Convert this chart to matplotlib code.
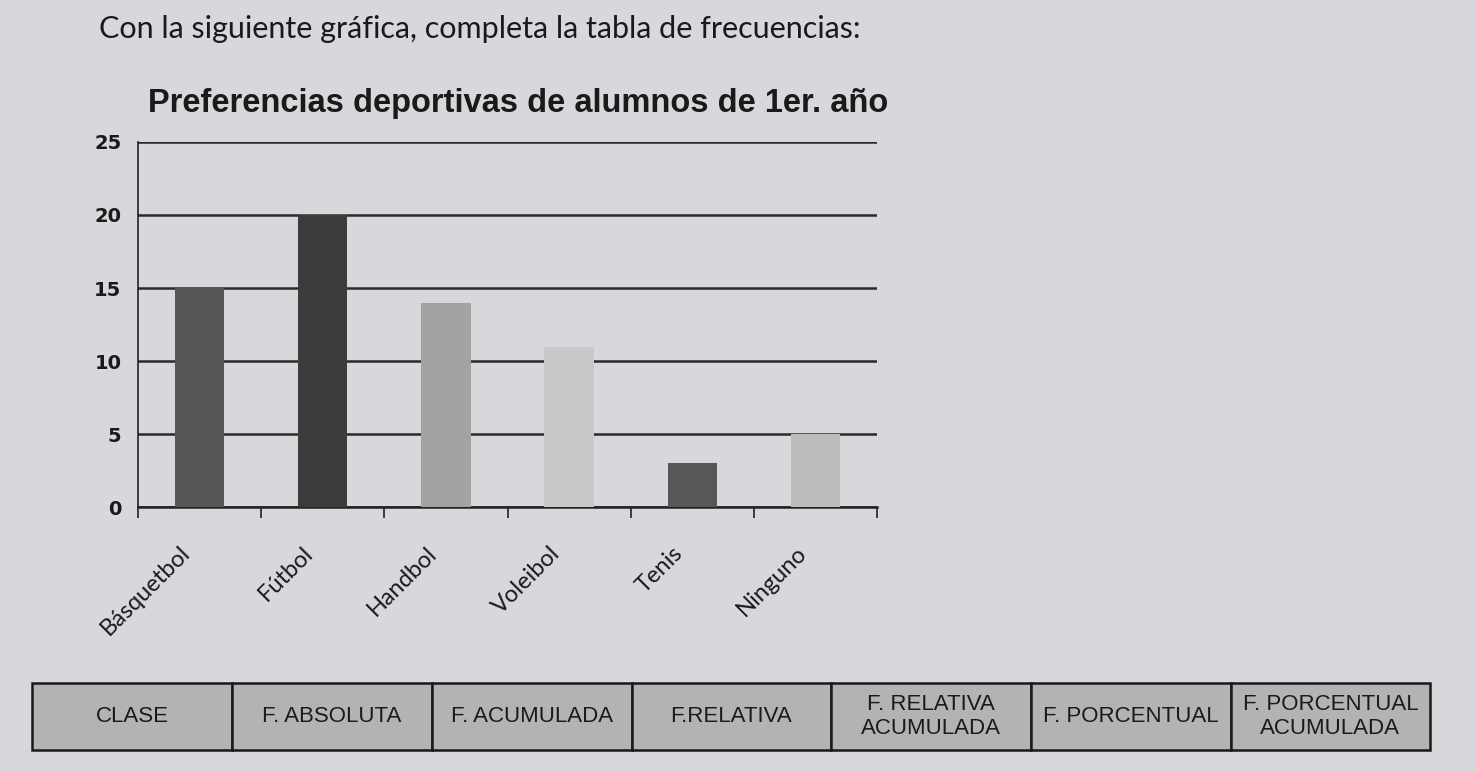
import matplotlib.pyplot as plt
import matplotlib.transforms as mtransforms
import numpy as np

categorias = ['Básquetbol', 'Fútbol', 'Handbol', 'Voleibol', 'Tenis', 'Ninguno']
alumnos = [15, 20, 14, 11, 3, 5]
encabezados = ['CLASE', 'F. ABSOLUTA', 'F. ACUMULADA', 'F.RELATIVA',
               'F. RELATIVA\nACUMULADA', 'F. PORCENTUAL', 'F. PORCENTUAL\nACUMULADA']

bar_colors = ['#565656', '#3b3d3d', '#a3a3a3', '#c9c9c9', '#575757', '#bcbcbc']
paper = '#d7d8db'

fig = plt.figure(figsize=(14.76, 7.71), dpi=100, facecolor=paper)

# Instruction line
fig.text(0.325, 0.963, 'Con la siguiente gráfica, completa la tabla de frecuencias:',
         fontsize=22, family='Lato', ha='center', va='center', color='#1a1a1a')

# Chart title
fig.text(0.351, 0.866, 'Preferencias deportivas de alumnos de 1er. año', fontsize=23.5,
         fontweight='bold', family='Liberation Sans', color='#1a1a1a',
         ha='center', va='center')

# Bar chart
ax = fig.add_axes([0.0935, 0.342, 0.5007, 0.474])
ax.set_facecolor(paper)
x = np.arange(len(categorias))
ax.bar(x, alumnos, width=0.4, color=bar_colors, zorder=3)
ax.set_xlim(-0.5, len(categorias) - 0.5)
ax.set_ylim(0, 25)
ax.set_yticks([0, 5, 10, 15, 20, 25])
ax.yaxis.grid(True, color='#2a2a2a', linewidth=1.8, zorder=1)
ax.tick_params(axis='y', length=0, pad=12, labelsize=14, labelcolor='#1a1a1a')
for lbl in ax.get_yticklabels():
    lbl.set_fontweight('bold')

# Excel-style ticks between categories, labels rotated under each bar
ax.set_xticks(np.arange(-0.5, len(categorias), 1.0))
ax.set_xticklabels([])
ax.tick_params(axis='x', which='major', length=8, width=1.2, color='#222222', direction='out')
shift = mtransforms.ScaledTranslation(-8 / 100, -47 / 100, fig.dpi_scale_trans)
for xi, nombre in zip(x, categorias):
    ax.text(xi, 0, nombre, transform=ax.get_xaxis_transform() + shift,
            rotation=45, ha='right', va='baseline', rotation_mode='anchor',
            fontsize=17, family='Lato', color='#1a1a1a')

for side in ['top', 'right']:
    ax.spines[side].set_visible(False)
ax.spines['left'].set_color('#222222')
ax.spines['bottom'].set_color('#222222')
ax.spines['left'].set_linewidth(1.2)
ax.spines['bottom'].set_linewidth(1.8)

# Frequency table header row
tax = fig.add_axes([0.022, 0.027, 0.947, 0.087])
tax.axis('off')
tbl = tax.table(cellText=[encabezados], cellLoc='center', loc='center',
                bbox=[0, 0, 1, 1])
tbl.auto_set_font_size(False)
for (r, c), cell in tbl.get_celld().items():
    cell.set_facecolor('#b3b3b3')
    cell.set_edgecolor('#1a1a1a')
    cell.set_linewidth(1.8)
    cell.get_text().set_fontsize(16)
    cell.get_text().set_family('Liberation Sans')
    cell.get_text().set_color('#1a1a1a')

fig.savefig('out.png', dpi=100, facecolor=paper)
